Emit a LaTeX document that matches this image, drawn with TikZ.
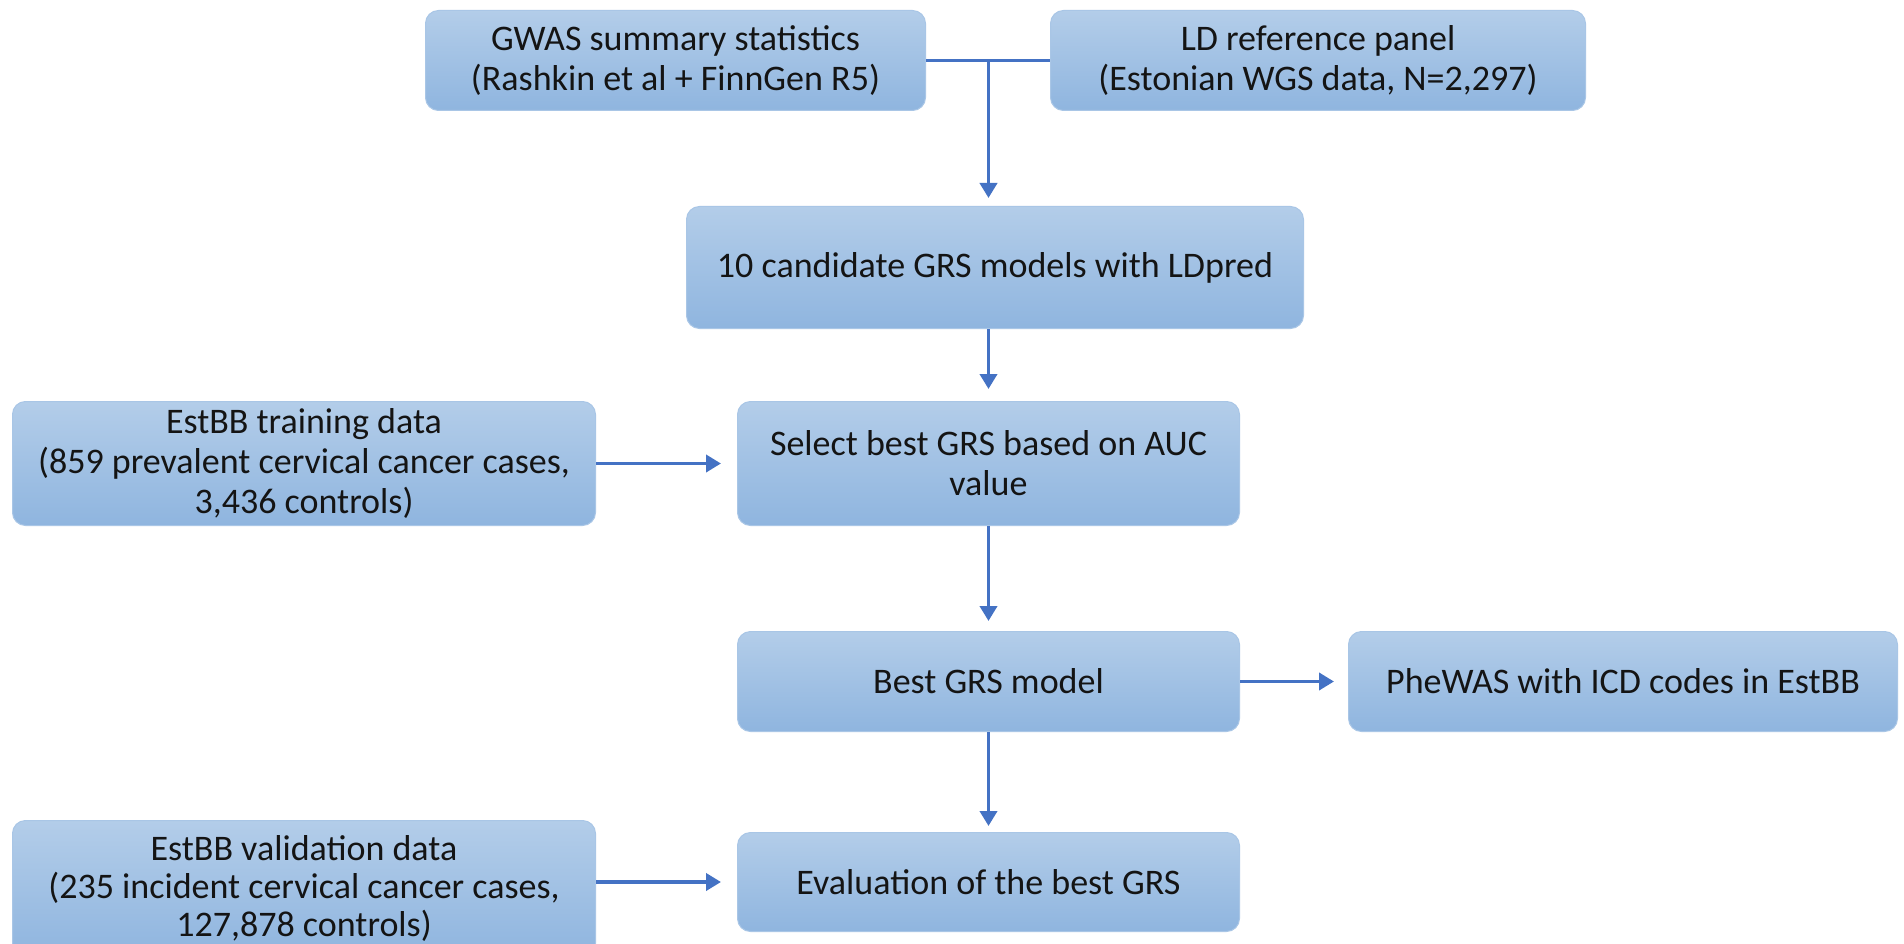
\documentclass[tikz,border=0pt]{standalone}
\usepackage{fontspec}
\setmainfont{Carlito}
\usetikzlibrary{arrows.meta}
\definecolor{boxtop}{HTML}{B3CDE9}
\definecolor{boxbot}{HTML}{8FB5DF}
\definecolor{boxedge}{HTML}{A9C6E6}
\definecolor{arrowblue}{HTML}{4472C4}
\definecolor{txt}{HTML}{141414}
\begin{document}
\begin{tikzpicture}[x=1pt,y=-1pt,
  box/.style={draw=boxedge, line width=1pt, rounded corners=13pt,
    top color=boxtop, bottom color=boxbot, align=center, text=txt,
    font=\fontsize{36}{40}\selectfont, inner sep=0pt, anchor=north west},
  line/.style={draw=arrowblue, line width=3.8pt},
  conn/.style={line, -{Triangle[length=15pt,width=17pt]}}]
\useasboundingbox (0,0) rectangle (1904,944);
\fill[white] (0,0) rectangle (1904,944);

\node[box, minimum width=500pt, minimum height=100pt] (gwas) at (425,10)
  {GWAS summary statistics\\(Rashkin et al + FinnGen R5)};
\node[box, minimum width=535pt, minimum height=100pt] (ld) at (1050,10)
  {LD reference panel\\(Estonian WGS data, N=2,297)};
\node[box, minimum width=617pt, minimum height=122pt] (cand) at (686,206)
  {10 candidate GRS models with LDpred};
\node[box, minimum width=502pt, minimum height=124pt] (sel) at (737,401)
  {Select best GRS based on AUC\\value};
\node[box, minimum width=583pt, minimum height=124pt] (train) at (12,401)
  {EstBB training data\\(859 prevalent cervical cancer cases,\\3,436 controls)};
\node[box, minimum width=502pt, minimum height=100pt] (best) at (737,631)
  {Best GRS model};
\node[box, minimum width=549pt, minimum height=100pt] (phe) at (1348,631)
  {PheWAS with ICD codes in EstBB};
\node[box, minimum width=502pt, minimum height=99pt] (eval) at (737,832)
  {Evaluation of the best GRS};
\node[box, minimum width=583pt, minimum height=136pt,
      font=\fontsize{36}{38}\selectfont] (val) at (12,820)
  {EstBB validation data\\(235 incident cervical cancer cases,\\127,878 controls)};

\coordinate (j) at (gwas.east -| sel.north);
\draw[line] (gwas.east) -- (ld.west);
\draw[conn, shorten >=8pt] (j) -- (j |- cand.north);
\draw[conn, shorten >=12pt] (j |- cand.south) -- (j |- sel.north);
\draw[conn, shorten >=10pt] (sel.south) -- (best.north);
\draw[conn, shorten >=6pt] (best.south) -- (eval.north);
\draw[conn, shorten >=16pt] (train.east |- sel.west) -- (sel.west);
\draw[conn, shorten >=14pt] (best.east) -- (phe.west);
\draw[conn, shorten >=16pt] (val.east |- eval.west) -- (eval.west);
\end{tikzpicture}
\end{document}
